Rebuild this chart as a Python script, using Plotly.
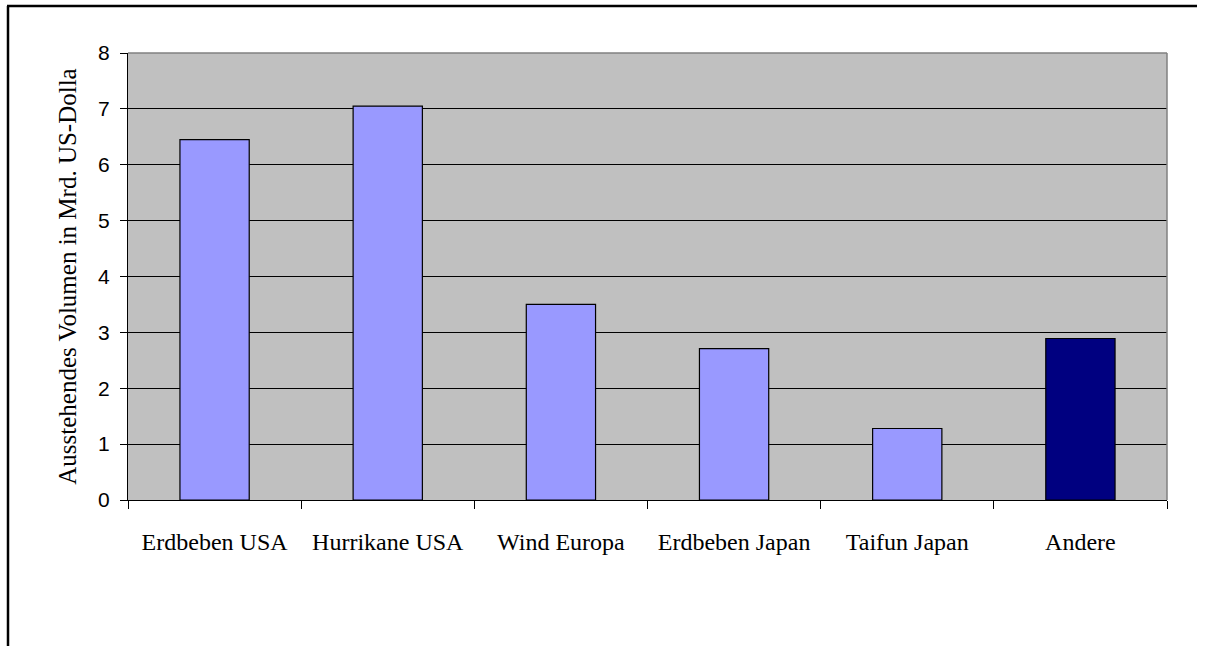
import plotly.graph_objects as go

categories = ["Erdbeben USA", "Hurrikane USA", "Wind Europa", "Erdbeben Japan", "Taifun Japan", "Andere"]
volumes = [6.45, 7.05, 3.5, 2.71, 1.28, 2.89]
bar_colors = ["#9999FF", "#9999FF", "#9999FF", "#9999FF", "#9999FF", "#000080"]
y_ticks = [0, 1, 2, 3, 4, 5, 6, 7, 8]

W, H = 1206, 646
L, R, T, B = 128, 1167, 53, 500.5

def px_x(x):
    return (x - L) / (R - L)

def px_y(y):
    return (B - y) / (B - T)

fig = go.Figure(go.Bar(
    x=categories,
    y=volumes,
    marker=dict(color=bar_colors, line=dict(color="#000000", width=1.2)),
    width=0.4,
))

shapes = [
    # plot-area frame, top and right edges
    dict(type="line", xref="paper", yref="paper", x0=0, x1=1, y0=1, y1=1,
         line=dict(color="#808080", width=1.5)),
    dict(type="line", xref="paper", yref="paper", x0=1, x1=1, y0=0, y1=1,
         line=dict(color="#808080", width=1.5)),
    # outer chart frame
    dict(type="line", xref="paper", yref="paper", x0=px_x(7), x1=px_x(1197),
         y0=px_y(6), y1=px_y(6), line=dict(color="#000000", width=2.5)),
    dict(type="line", xref="paper", yref="paper", x0=px_x(8), x1=px_x(8),
         y0=px_y(6), y1=px_y(647), line=dict(color="#000000", width=2.5)),
]

fig.update_layout(
    width=W, height=H,
    margin=dict(l=L, r=W - R, t=T, b=H - B, pad=0),
    paper_bgcolor="#FFFFFF",
    plot_bgcolor="#C0C0C0",
    showlegend=False,
    bargap=0.6,
    shapes=shapes,
    xaxis=dict(
        type="category",
        tickson="boundaries",
        ticks="outside", ticklen=8, tickcolor="#000000", tickwidth=1,
        showline=True, linecolor="#000000", linewidth=1,
        showgrid=False,
        tickfont=dict(family="Liberation Serif, Times New Roman, serif", size=24, color="#000000"),
        ticklabelstandoff=20,
    ),
    yaxis=dict(
        range=[0, 8],
        tickvals=y_ticks,
        ticks="outside", ticklen=7, tickcolor="#000000", tickwidth=1,
        showline=True, linecolor="#000000", linewidth=1,
        showgrid=True, gridcolor="#000000", gridwidth=1,
        zeroline=False,
        tickfont=dict(family="Liberation Sans, Arial, sans-serif", size=21, color="#000000"),
        ticklabelstandoff=6,
        title=dict(text="Ausstehendes Volumen in Mrd. US-Dolla",
                   font=dict(family="Liberation Serif, Times New Roman, serif", size=25, color="#000000"),
                   standoff=14),
    ),
)

fig.write_html("out.html")
